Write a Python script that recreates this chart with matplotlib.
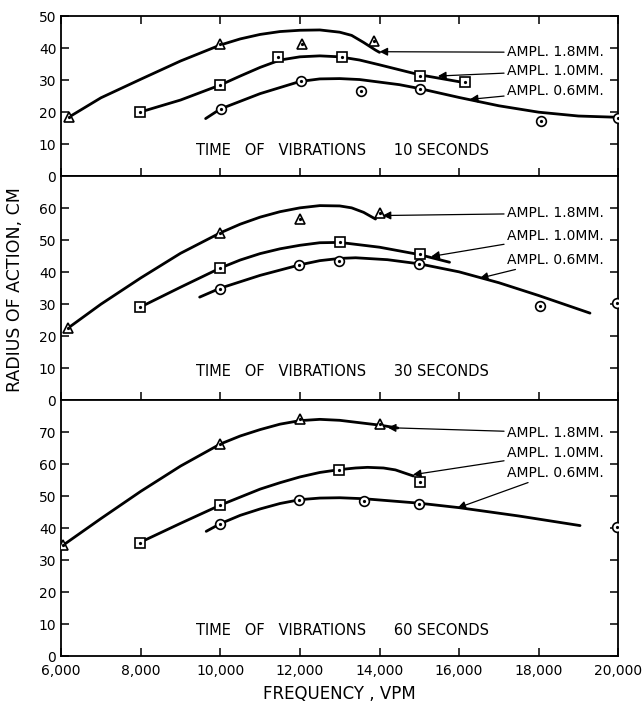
import matplotlib
matplotlib.use("Agg")
import matplotlib.pyplot as plt

plt.rcParams["font.family"] = ["DejaVu Sans"]

# ---- data (frequency in VPM, radius in cm) ----
# 10 seconds
s10_tri_x = [6200, 10000, 12050, 13850]
s10_tri_y = [18.5, 41.3, 41.3, 42.3]
s10_sq_x = [7975, 10000, 11440, 13050, 15010, 16160]
s10_sq_y = [20.0, 28.5, 37.1, 37.3, 31.3, 29.5]
s10_ci_x = [10025, 12025, 13540, 15030, 18050, 19990]
s10_ci_y = [21.0, 29.7, 26.6, 27.4, 17.4, 18.2]
s10_c18_x = [6200, 7000, 8000, 9000, 10000, 10500, 11000, 11500, 12000, 12500, 13000, 13300, 13600, 13900, 14000]
s10_c18_y = [18.5, 24.5, 30.3, 36.0, 41.0, 42.9, 44.3, 45.2, 45.6, 45.7, 45.0, 44.0, 41.8, 39.4, 38.7]
s10_c10_x = [7975, 9000, 10000, 10500, 11000, 11500, 12000, 12500, 13000, 13500, 14000, 15000, 16150]
s10_c10_y = [20.0, 23.8, 28.5, 31.3, 34.0, 36.3, 37.3, 37.6, 37.3, 36.3, 34.8, 31.7, 29.2]
s10_c06_x = [9630, 10000, 11000, 12000, 12500, 13000, 13500, 14500, 15000, 16000, 17000, 18000, 19000, 20000]
s10_c06_y = [18.0, 21.0, 25.8, 29.6, 30.4, 30.5, 30.2, 28.6, 27.4, 24.6, 22.0, 20.0, 18.8, 18.4]

# 30 seconds
s30_tri_x = [6170, 10000, 12010, 14000]
s30_tri_y = [22.5, 52.2, 56.6, 58.4]
s30_sq_x = [7975, 10000, 13010, 15025]
s30_sq_y = [29.0, 41.3, 49.3, 45.7]
s30_ci_x = [10000, 11970, 12990, 14990, 18030, 19970]
s30_ci_y = [34.8, 42.3, 43.5, 42.6, 29.3, 30.5]
s30_c18_x = [6170, 7000, 8000, 9000, 10000, 10500, 11000, 11500, 12000, 12500, 13000, 13300, 13600, 13900]
s30_c18_y = [22.5, 30.0, 38.2, 45.9, 52.3, 55.0, 57.2, 58.9, 60.1, 60.8, 60.7, 60.1, 58.7, 56.6]
s30_c10_x = [7975, 9000, 10000, 10500, 11000, 11500, 12000, 12500, 13000, 14000, 15000, 15760]
s30_c10_y = [29.0, 35.3, 41.3, 43.8, 45.8, 47.3, 48.4, 49.2, 49.3, 47.8, 45.5, 43.1]
s30_c06_x = [9480, 10000, 11000, 12000, 12500, 13000, 13400, 14200, 15000, 16000, 17000, 18000, 19290]
s30_c06_y = [32.2, 35.0, 39.0, 42.3, 43.6, 44.3, 44.5, 43.9, 42.6, 40.1, 36.7, 32.7, 27.2]

# 60 seconds
s60_tri_x = [6040, 10000, 12000, 14000]
s60_tri_y = [34.6, 66.4, 74.0, 72.4]
s60_sq_x = [7975, 10000, 12990, 15010]
s60_sq_y = [35.5, 47.1, 58.1, 54.4]
s60_ci_x = [10000, 11985, 13600, 14990, 19970]
s60_ci_y = [41.4, 48.9, 48.4, 47.6, 40.5]
s60_c18_x = [6040, 7000, 8000, 9000, 10000, 10500, 11000, 11500, 12000, 12500, 13000, 13400, 14000, 14460]
s60_c18_y = [34.6, 43.0, 51.5, 59.4, 66.3, 68.8, 70.8, 72.5, 73.6, 74.0, 73.7, 73.1, 72.2, 71.3]
s60_c10_x = [7975, 9000, 10000, 11000, 11500, 12000, 12500, 13000, 13400, 13700, 14100, 14400, 14850]
s60_c10_y = [35.5, 41.5, 47.2, 52.2, 54.2, 56.0, 57.4, 58.3, 58.8, 59.0, 58.8, 58.2, 56.3]
s60_c06_x = [9645, 10000, 10500, 11000, 11500, 12000, 12500, 13000, 13600, 15000, 16000, 17500, 19040]
s60_c06_y = [39.0, 41.4, 44.0, 46.0, 47.7, 48.9, 49.4, 49.5, 49.2, 47.8, 46.4, 43.8, 40.8]

panel_ymax = [50, 70, 80]
panel_yticks = [range(0, 51, 10), range(0, 61, 10), range(0, 71, 10)]
panel_seconds = ["10", "30", "60"]
amp_labels = ["AMPL. 1.8MM.", "AMPL. 1.0MM.", "AMPL. 0.6MM."]
x_ticks = [6000, 8000, 10000, 12000, 14000, 16000, 18000, 20000]
x_ticklabels = ["6,000", "8,000", "10,000", "12,000", "14,000", "16,000", "18,000", "20,000"]

panels = [
    [(s10_tri_x, s10_tri_y, "^"), (s10_sq_x, s10_sq_y, "s"), (s10_ci_x, s10_ci_y, "o")],
    [(s30_tri_x, s30_tri_y, "^"), (s30_sq_x, s30_sq_y, "s"), (s30_ci_x, s30_ci_y, "o")],
    [(s60_tri_x, s60_tri_y, "^"), (s60_sq_x, s60_sq_y, "s"), (s60_ci_x, s60_ci_y, "o")],
]
curves = [
    [(s10_c18_x, s10_c18_y), (s10_c10_x, s10_c10_y), (s10_c06_x, s10_c06_y)],
    [(s30_c18_x, s30_c18_y), (s30_c10_x, s30_c10_y), (s30_c06_x, s30_c06_y)],
    [(s60_c18_x, s60_c18_y), (s60_c10_x, s60_c10_y), (s60_c06_x, s60_c06_y)],
]

# label text positions (y) and arrow tips, per panel
label_y = [[38.7, 32.9, 26.6], [58.4, 51.4, 43.9], [69.8, 63.5, 57.3]]
arrow_tip = [
    [(14000, 38.9), (15470, 31.3), (16270, 24.0)],
    [(14080, 57.7), (15300, 44.9), (16520, 38.1)],
    [(14210, 71.4), (14840, 56.7), (15960, 46.3)],
]
time_text_y = [8.0, 9.0, 7.9]

fig = plt.figure(figsize=(6.44, 7.04), dpi=100)
gs = fig.add_gridspec(3, 1, height_ratios=panel_ymax, hspace=0,
                      left=0.095, right=0.96, top=0.977, bottom=0.068)

for i in range(3):
    ax = fig.add_subplot(gs[i])
    for cx, cy in curves[i]:
        ax.plot(cx, cy, color="black", lw=2.0, solid_capstyle="round",
                solid_joinstyle="round", zorder=2)
    for px, py, m in panels[i]:
        ax.plot(px, py, ls="none", marker=m, ms=7.5 if m == "^" else 7,
                mfc="white", mec="black", mew=1.2, zorder=3)
        ax.plot(px, py, ls="none", marker="o", ms=1.3, color="black", zorder=4)

    for j in range(3):
        tx, ty = arrow_tip[i][j]
        ax.annotate(amp_labels[j], xy=(tx, ty), xytext=(17200, label_y[i][j]),
                    fontsize=10, ha="left", va="center",
                    arrowprops=dict(arrowstyle="-|>", color="black", lw=0.9,
                                    mutation_scale=12, shrinkA=0, shrinkB=0))

    ax.text(9380, time_text_y[i],
            "TIME   OF   VIBRATIONS      " + panel_seconds[i] + " SECONDS",
            fontsize=10.5, ha="left", va="center")

    ax.set_xlim(6000, 20000)
    ax.set_ylim(0, panel_ymax[i])
    ax.set_yticks(list(panel_yticks[i]))
    ax.set_xticks(x_ticks)
    ax.tick_params(direction="in", length=6, width=1.1, labelsize=10,
                   left=True, right=True, top=(i == 0), bottom=True)
    ax.tick_params(axis="x", pad=6)
    if i < 2:
        ax.set_xticklabels([])
    else:
        ax.set_xticklabels(x_ticklabels)
        ax.set_xlabel("FREQUENCY , VPM", fontsize=12, labelpad=5)
    for sp in ax.spines.values():
        sp.set_linewidth(1.3)

fig.text(0.023, 0.588, "RADIUS OF ACTION, CM", rotation=90,
         fontsize=12.5, ha="center", va="center")

fig.savefig("out.png", dpi=100)
